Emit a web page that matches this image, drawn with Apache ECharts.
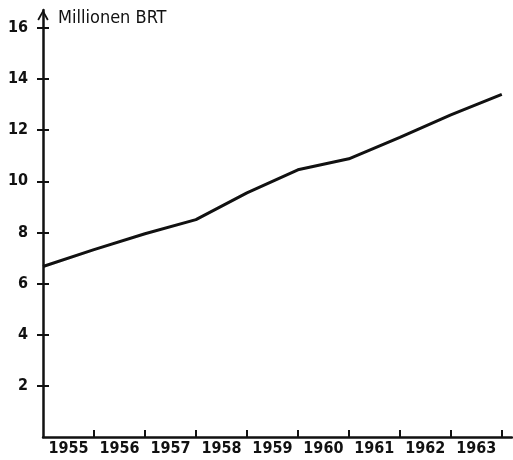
<!DOCTYPE html>
<html lang="de">
<head>
    <meta charset="UTF-8">
    <title>Millionen BRT</title>
    <script src="https://cdn.jsdelivr.net/npm/echarts@6/dist/echarts.min.js"></script>
    <style>
        html, body { margin: 0; padding: 0; background: #fff; }
        #chart1 { width: 513px; height: 460px; }
    </style>
</head>
<body>
<div id="chart1"></div>
<script type="text/javascript">
    // Jahre (Beschriftung mittig im Jahresfeld)
    var years = ['1955', '1956', '1957', '1958', '1959', '1960', '1961', '1962', '1963'];
    // Werte an den Jahresgrenzen: Anfang 1955 ... Ende 1963 (Mio. BRT)
    var values = [6.67, 7.33, 7.95, 8.5, 9.55, 10.45, 10.88, 11.72, 12.6, 13.4];
    var yTicks = [2, 4, 6, 8, 10, 12, 14, 16];

    var font = 'DejaVu Sans Condensed';
    var xTicks = years.map(function (y, i) { return i + 1; });
    var xLabelPos = years.map(function (y, i) { return i + 0.5; });

    var chart1 = echarts.init(document.getElementById('chart1'));
    chart1.setOption({
        animation: false,
        backgroundColor: '#fff',
        title: {
            text: 'Millionen BRT',
            left: 58,
            top: 9,
            padding: 0,
            textStyle: { fontFamily: font, fontSize: 18, fontWeight: 'normal', color: '#111' }
        },
        grid: { left: 43, right: 1, top: 10, bottom: 23 },
        xAxis: {
            type: 'value',
            min: 0,
            max: 9.2,
            splitLine: { show: false },
            axisLine: { lineStyle: { color: '#111', width: 2.5 } },
            axisTick: {
                customValues: xTicks,
                inside: true,
                length: 7,
                lineStyle: { color: '#111', width: 2 }
            },
            axisLabel: {
                customValues: xLabelPos,
                margin: 4,
                formatter: function (v) { return years[Math.floor(v)]; },
                fontFamily: font, fontSize: 16, fontWeight: 'bold', color: '#111'
            }
        },
        yAxis: [{
            type: 'value',
            min: 0,
            max: 16.7,
            splitLine: { show: false },
            axisLine: {
                onZero: false,
                symbol: ['none', 'path://M0,9 L5,0 L10,9 L8.6,9.8 L5,3.2 L1.4,9.8 Z'],
                symbolSize: [14, 11],
                symbolOffset: [0, -5],
                lineStyle: { color: '#111', width: 2.5 }
            },
            axisTick: {
                customValues: yTicks,
                length: 6,
                lineStyle: { color: '#111', width: 2 }
            },
            axisLabel: {
                customValues: yTicks,
                margin: 15,
                fontFamily: font, fontSize: 16, fontWeight: 'bold', color: '#111'
            }
        }, {
            type: 'value',
            position: 'left',
            min: 0,
            max: 16.7,
            splitLine: { show: false },
            axisLine: { show: true, onZero: false, lineStyle: { opacity: 0 } },
            axisTick: {
                show: true,
                customValues: yTicks,
                inside: true,
                length: 6,
                lineStyle: { color: '#111', width: 2 }
            },
            axisLabel: { show: false }
        }],
        series: [{
            type: 'line',
            data: values.map(function (v, i) { return [i, v]; }),
            symbol: 'none',
            lineStyle: { color: '#111', width: 3 }
        }]
    });
</script>
</body>
</html>
